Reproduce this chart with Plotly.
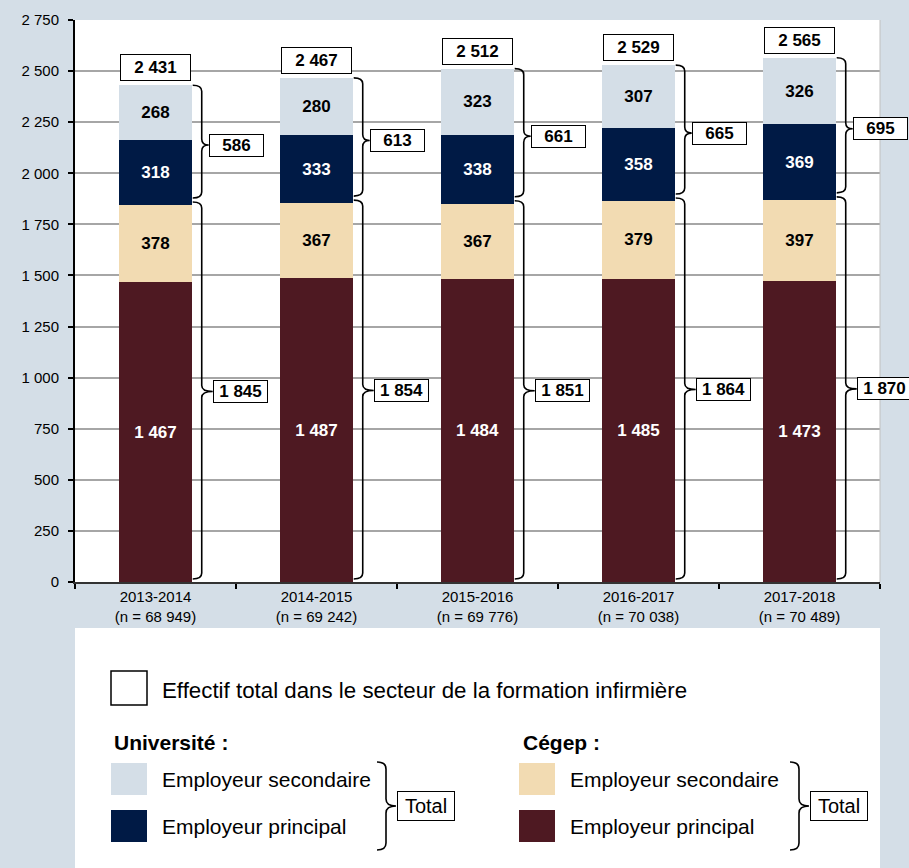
import plotly.graph_objects as go

# ---------------- data ----------------
years = ["2013-2014", "2014-2015", "2015-2016", "2016-2017", "2017-2018"]
n_values = ["68 949", "69 242", "69 776", "70 038", "70 489"]
cegep_principal = [1467, 1487, 1484, 1485, 1473]
cegep_secondaire = [378, 367, 367, 379, 397]
univ_principal = [318, 333, 338, 358, 369]
univ_secondaire = [268, 280, 323, 307, 326]
cegep_total = [1845, 1854, 1851, 1864, 1870]
univ_total = [586, 613, 661, 665, 695]
grand_total = [2431, 2467, 2512, 2529, 2565]
y_ticks = [0, 250, 500, 750, 1000, 1250, 1500, 1750, 2000, 2250, 2500, 2750]

# ---------------- style ----------------
BG = "#D4DEE7"
C_US = "#D4DEE7"
C_UP = "#001A45"
C_CS = "#F2DBB2"
C_CP = "#4E1922"
FONT = "Arial, Liberation Sans, sans-serif"
VF = 17  # value label font size

W, H = 909, 868
ML, MR, MT, MB = 75, 29, 20, 286
PW = W - ML - MR
PH = H - MT - MB
YMAX = 2750
BAR_W = 0.45

X_PER_PX = 5 / PW          # data units per pixel (x)
Y_PER_PX = YMAX / PH       # data units per pixel (y)

x = list(range(len(years)))
ticktext = [f"{y}<br>(n = {n})" for y, n in zip(years, n_values)]


def fmt(v):
    return f"{v:,}".replace(",", " ")


fig = go.Figure()


def add_bar(vals, color, textcolor, name):
    fig.add_trace(go.Bar(
        x=x, y=vals, name=name, marker=dict(color=color, line=dict(width=0)),
        width=BAR_W, text=[fmt(v) for v in vals], textposition="inside",
        insidetextanchor="middle", textangle=0,
        textfont=dict(family=FONT, size=VF, color=textcolor),
        texttemplate="<b>%{text}</b>", hoverinfo="skip", showlegend=False,
    ))


add_bar(cegep_principal, C_CP, "white", "Cégep principal")
add_bar(cegep_secondaire, C_CS, "black", "Cégep secondaire")
add_bar(univ_principal, C_UP, "white", "Université principal")
add_bar(univ_secondaire, C_US, "black", "Université secondaire")


def brace(x0, x1, x2, yt, ym, yb, r):
    return (f"M {x0},{yt} Q {x1},{yt} {x1},{yt - r} L {x1},{ym + r} "
            f"Q {x1},{ym} {x2},{ym} Q {x1},{ym} {x1},{ym - r} "
            f"L {x1},{yb + r} Q {x1},{yb} {x0},{yb}")


shapes = []
annotations = []
r = 6 * Y_PER_PX
for i in x:
    bx = i + BAR_W / 2
    x0 = bx + 1 * X_PER_PX
    x1 = bx + 10 * X_PER_PX
    x2 = bx + 17 * X_PER_PX
    # university brace
    yt, yb = grand_total[i], cegep_total[i] + 7 * Y_PER_PX
    ym = (grand_total[i] + cegep_total[i]) / 2
    shapes.append(dict(type="path", xref="x", yref="y",
                       path=brace(x0, x1, x2, yt, ym, yb, r),
                       line=dict(color="black", width=1.6)))
    annotations.append(dict(x=x2, y=ym, xref="x", yref="y", xanchor="left",
                            yanchor="middle", showarrow=False,
                            text=f"<b>{fmt(univ_total[i])}</b>",
                            font=dict(family=FONT, size=VF, color="black"),
                            bgcolor="white", bordercolor="black", borderwidth=1,
                            borderpad=2, width=49, height=17))
    # cegep brace
    yt, yb = cegep_total[i] + 3 * Y_PER_PX, 0 + 3 * Y_PER_PX
    ym = cegep_total[i] / 2 + 10
    x2c = bx + 21 * X_PER_PX
    shapes.append(dict(type="path", xref="x", yref="y",
                       path=brace(x0, x1, x2c, yt, ym, yb, r),
                       line=dict(color="black", width=1.6)))
    annotations.append(dict(x=x2c, y=ym, xref="x", yref="y", xanchor="left",
                            yanchor="middle", showarrow=False,
                            text=f"<b>{fmt(cegep_total[i])}</b>",
                            font=dict(family=FONT, size=VF, color="black"),
                            bgcolor="white", bordercolor="black", borderwidth=1,
                            borderpad=2, width=49, height=17))
    # grand total box
    annotations.append(dict(x=i, y=grand_total[i], xref="x", yref="y",
                            xanchor="center", yanchor="bottom", yshift=4,
                            showarrow=False,
                            text=f"<b>{fmt(grand_total[i])}</b>",
                            font=dict(family=FONT, size=VF, color="black"),
                            bgcolor="white", bordercolor="black", borderwidth=1,
                            borderpad=2, width=65, height=21))

# right border of plot area
shapes.append(dict(type="line", xref="paper", yref="paper", x0=1, x1=1, y0=0, y1=1,
                   line=dict(color="#BFBFBF", width=1)))


# ---------------- custom legend (pixel -> paper helpers) ----------------
def px(v):
    return (v - ML) / PW


def py(v):
    return (MT + PH - v) / PH


shapes.append(dict(type="rect", xref="paper", yref="paper", layer="below",
                   x0=px(75), x1=px(880), y0=py(872), y1=py(628),
                   fillcolor="white", line=dict(width=0)))

LF = 21
# total symbol
shapes.append(dict(type="rect", xref="paper", yref="paper",
                   x0=px(111), x1=px(147), y0=py(705), y1=py(671),
                   fillcolor="white", line=dict(color="black", width=1.5)))
annotations.append(dict(x=px(160), y=py(690), xref="paper", yref="paper",
                        xanchor="left", yanchor="middle", showarrow=False,
                        text="Effectif total dans le secteur de la formation infirmière",
                        font=dict(family=FONT, size=22.3, color="black")))

groups = [
    ("Université :", 112, 111, C_US, C_UP, 377, 386, 396),
    ("Cégep :", 521, 519, C_CS, C_CP, 790, 799, 809),
]
for title, tx, sx, csec, cprin, b0, b1, b2 in groups:
    annotations.append(dict(x=px(tx), y=py(742), xref="paper", yref="paper",
                            xanchor="left", yanchor="middle", showarrow=False,
                            text=f"<b>{title}</b>",
                            font=dict(family=FONT, size=LF, color="black")))
    for (c, lab, yc) in [(csec, "Employeur secondaire", 779), (cprin, "Employeur principal", 826)]:
        shapes.append(dict(type="rect", xref="paper", yref="paper",
                           x0=px(sx), x1=px(sx + 36), y0=py(yc + 16), y1=py(yc - 16),
                           fillcolor=c, line=dict(width=0)))
        annotations.append(dict(x=px(sx + 49), y=py(yc), xref="paper", yref="paper",
                                xanchor="left", yanchor="middle", showarrow=False,
                                text=lab, font=dict(family=FONT, size=LF, color="black")))
    rr = 7 / PH
    shapes.append(dict(type="path", xref="paper", yref="paper",
                       path=brace(px(b0), px(b1), px(b2), py(762), py(806), py(850), rr),
                       line=dict(color="black", width=1.6)))
    annotations.append(dict(x=px(b2 + 1), y=py(806), xref="paper", yref="paper",
                            xanchor="left", yanchor="middle", showarrow=False,
                            text="Total", font=dict(family=FONT, size=20, color="black"),
                            bgcolor="white", bordercolor="black", borderwidth=1,
                            borderpad=1, width=54, height=26))

fig.update_layout(
    barmode="stack",
    width=W, height=H,
    margin=dict(l=ML, r=MR, t=MT, b=MB),
    paper_bgcolor=BG, plot_bgcolor="white",
    separators=", ",
    font=dict(family=FONT, color="black"),
    shapes=shapes, annotations=annotations,
    showlegend=False,
    xaxis=dict(range=[-0.5, 4.5], tickvals=x, ticktext=ticktext, ticks="",
               showgrid=False, showline=True, linecolor="#333333", linewidth=2,
               tickfont=dict(family=FONT, size=15, color="black"),
               minor=dict(tickvals=[-0.5, 0.5, 1.5, 2.5, 3.5, 4.5], ticks="outside",
                          ticklen=5, tickwidth=2, tickcolor="black"),
               zeroline=False, fixedrange=True),
    yaxis=dict(range=[0, YMAX], tickvals=y_ticks, tickformat=",d",
               showgrid=True, gridcolor="#A6A6A6", gridwidth=2,
               showline=True, linecolor="black", linewidth=2,
               ticks="outside", ticklen=5, tickwidth=2, tickcolor="black",
               ticklabelstandoff=6,
               tickfont=dict(family=FONT, size=15, color="black"),
               zeroline=False, fixedrange=True),
)

fig.write_html(
    "out.html",
    config={"displayModeBar": False},
    post_script=f"document.body.style.margin='0';document.body.style.background='{BG}';",
)
